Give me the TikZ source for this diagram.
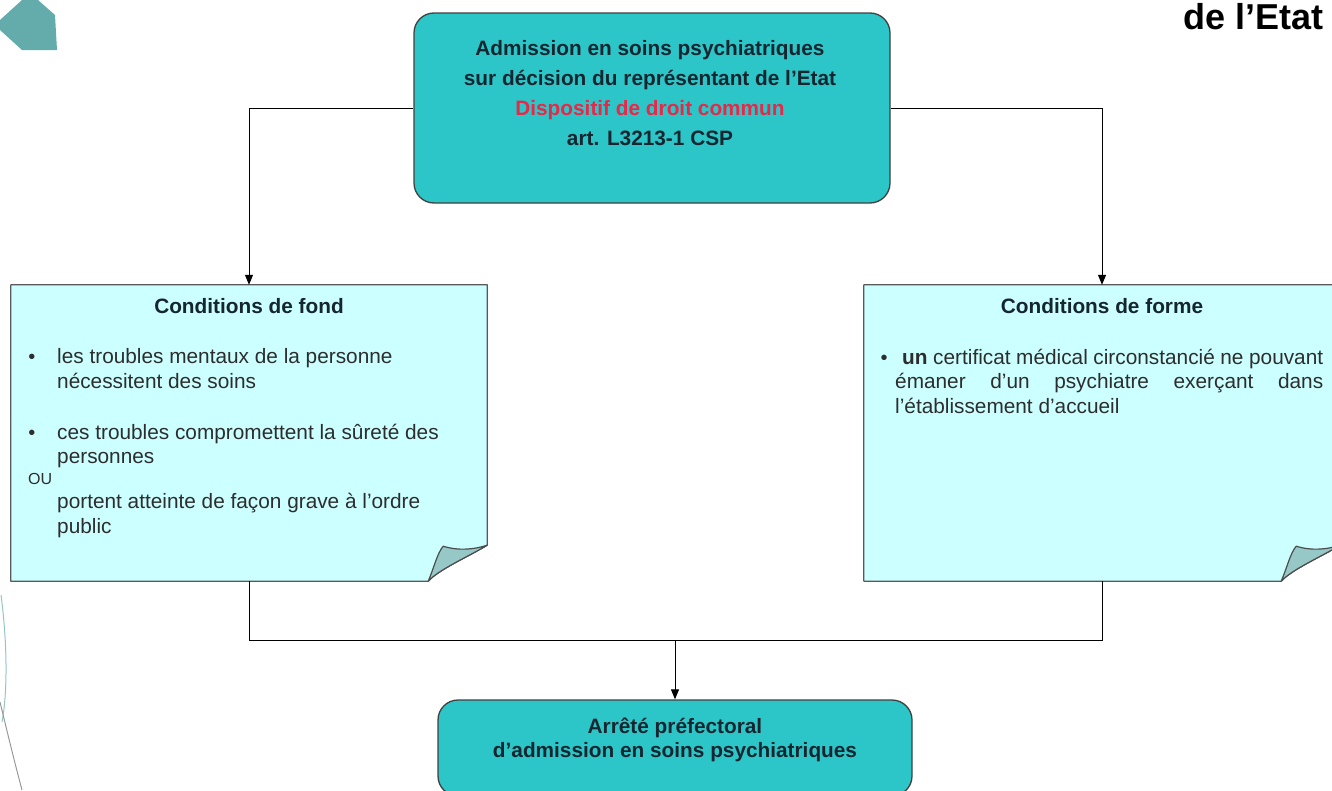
\documentclass[tikz,border=0pt]{standalone}
\usepackage{fontspec}
\setmainfont{Liberation Sans}
\usetikzlibrary{arrows.meta,calc}
\definecolor{teal1}{RGB}{44,198,200}
\definecolor{notefill}{RGB}{204,255,255}
\definecolor{foldfill}{RGB}{150,200,200}
\definecolor{deco}{RGB}{100,172,172}
\definecolor{redtxt}{RGB}{232,40,72}
\definecolor{hd}{RGB}{22,38,48}
\definecolor{bd}{RGB}{45,45,45}
\begin{document}
\begin{tikzpicture}[x=1pt,y=-1pt,
  box/.style={draw=black!75, line width=1.3pt, fill=teal1, rounded corners=20pt, inner sep=0},
  notebox/.style={inner sep=0, minimum width=476pt, minimum height=296pt},
  noteline/.style={draw=black!65, line width=1.2pt, line join=round},
  foldline/.style={draw=black!70, line width=1.2pt, fill=foldfill, line join=round},
  hb/.style={font=\bfseries\fontsize{20.8}{25}\selectfont, text=hd, anchor=base, inner sep=0},
  tx/.style={font=\fontsize{20.8}{25}\selectfont, text=bd, anchor=base west, inner sep=0},
  bul/.style={font=\fontsize{20}{24}\selectfont, text=bd, anchor=base, inner sep=0},
  conn/.style={draw=black, line width=1pt},
  arr/.style={conn, -{Triangle[length=10pt,width=8pt]}}]
\useasboundingbox (0,0) rectangle (1332,790);

% decorations of the slide template
\fill[deco] (22,0) -- (38,0) -- (55,15) -- (57,50) -- (22,50) -- (0,30) -- (0,20) -- cycle;
\draw[deco!70, line width=1pt] (1,595) .. controls (7,640) and (8,690) .. (2,722);
\draw[black!40, line width=1pt] (0,702) .. controls (8,735) and (14,760) .. (22,790);

% title fragment
\node[font=\bfseries\fontsize{36}{40}\selectfont, anchor=base east, inner sep=0] (title) at (1324,29) {de l’Etat};

% top box
\node[box, minimum width=476pt, minimum height=190pt] (adm) at (652,108) {};
\node[hb] (a1) at (650,55) {Admission en soins psychiatriques};
\node[hb] (a2) at (650,85) {sur décision du représentant de l’Etat};
\node[hb, text=redtxt] (a3) at (650,115) {Dispositif de droit commun};
\node[hb] (a4) at (650,145) {art. L3213-1 CSP};

% left note
\node[notebox] (fond) at (249,433) {};
\path[fill=notefill, noteline] (fond.north west) -- (fond.north east) -- ($(fond.south east)+(0,-36)$)
  .. controls ($(fond.south east)+(-18,-25)$) and ($(fond.south east)+(-48,-12)$) .. ($(fond.south east)+(-59,0)$)
  -- (fond.south west) -- cycle;
\path[foldline] ($(fond.south east)+(-59,0)$) .. controls ($(fond.south east)+(-53,-14)$) and ($(fond.south east)+(-50,-28)$) .. ($(fond.south east)+(-44,-35)$)
  .. controls ($(fond.south east)+(-28,-30)$) and ($(fond.south east)+(-12,-32)$) .. ($(fond.south east)+(0,-36)$)
  .. controls ($(fond.south east)+(-18,-25)$) and ($(fond.south east)+(-48,-12)$) .. cycle;

\node[hb] (fondt) at (249,313) {Conditions de fond};
\node[bul] (fb1) at (32,363) {•};
\node[tx] (f1) at (57,363) {les troubles mentaux de la personne};
\node[tx] (f2) at (57,388) {nécessitent des soins};
\node[bul] (fb2) at (32,439) {•};
\node[tx] (f3) at (57,439) {ces troubles compromettent la sûreté des};
\node[tx] (f4) at (57,463) {personnes};
\node[tx, font=\fontsize{16}{20}\selectfont] (fou) at (28,484) {OU};
\node[tx] (f5) at (57,508) {portent atteinte de façon grave à l’ordre};
\node[tx] (f6) at (57,533) {public};

% right note
\node[notebox] (forme) at (1102,433) {};
\path[fill=notefill, noteline] (forme.north west) -- (forme.north east) -- ($(forme.south east)+(0,-36)$)
  .. controls ($(forme.south east)+(-18,-25)$) and ($(forme.south east)+(-48,-12)$) .. ($(forme.south east)+(-59,0)$)
  -- (forme.south west) -- cycle;
\path[foldline] ($(forme.south east)+(-59,0)$) .. controls ($(forme.south east)+(-53,-14)$) and ($(forme.south east)+(-50,-28)$) .. ($(forme.south east)+(-44,-35)$)
  .. controls ($(forme.south east)+(-28,-30)$) and ($(forme.south east)+(-12,-32)$) .. ($(forme.south east)+(0,-36)$)
  .. controls ($(forme.south east)+(-18,-25)$) and ($(forme.south east)+(-48,-12)$) .. cycle;

\node[hb] (formet) at (1102,313) {Conditions de forme};
\node[bul] (rb1) at (884,364) {•};
\node[tx] (r1) at (902,364) {\makebox[421pt][s]{\textbf{un} certificat médical circonstancié ne pouvant}};
\node[tx] (r2) at (895,388) {\makebox[428pt][s]{émaner d’un psychiatre exerçant dans}};
\node[tx] (r3) at (895,413) {l’établissement d’accueil};

% bottom box
\node[box, minimum width=474pt, minimum height=96pt] (arrete) at (675,748) {};
\node[hb] (b1) at (675,733) {Arrêté préfectoral};
\node[hb] (b2) at (675,757) {d’admission en soins psychiatriques};

% connectors
\draw[arr] (adm.west) -| (fond.north);
\draw[arr] (adm.east) -| (forme.north);
\coordinate (join) at (675,640);
\draw[conn] (fond.south) |- (join -| forme.south) -- (forme.south);
\draw[arr] (join) -- (arrete.north);
\end{tikzpicture}
\end{document}
